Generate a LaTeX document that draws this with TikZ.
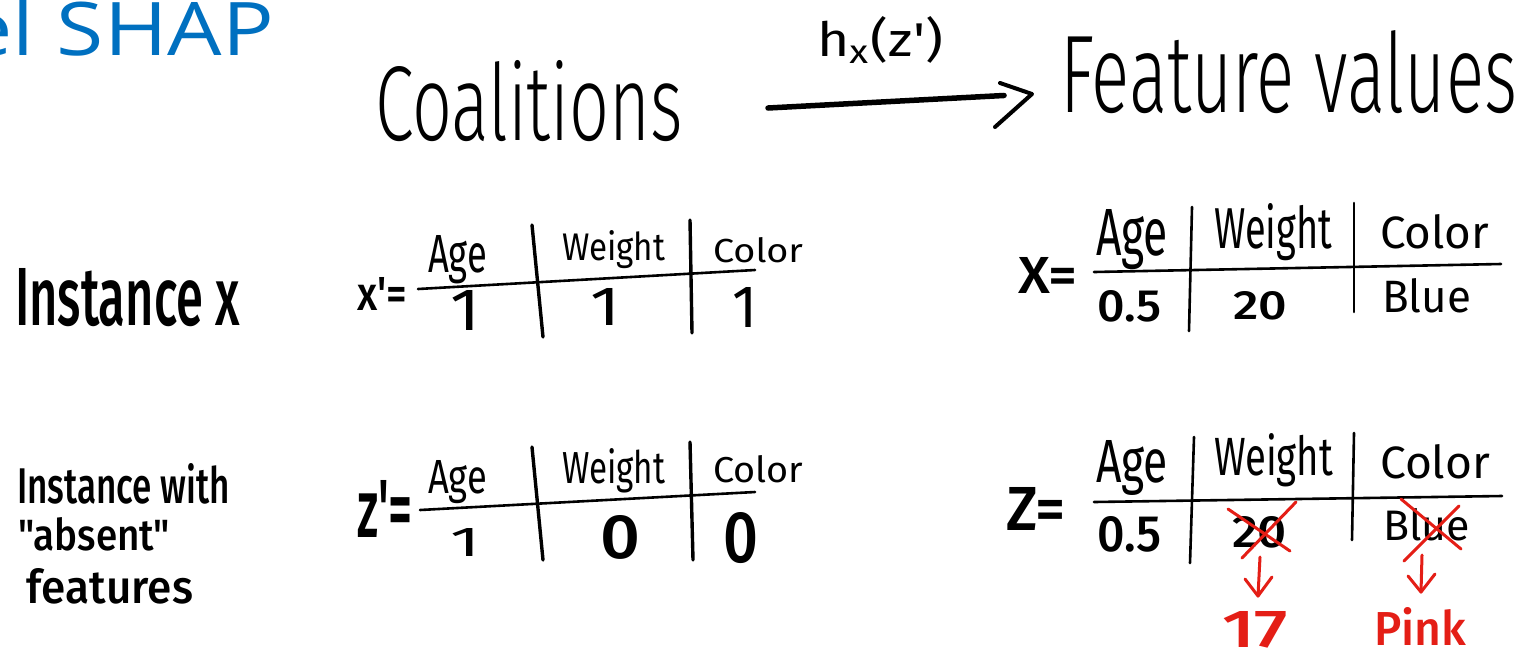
\documentclass[tikz,border=0pt]{standalone}
\usepackage{fontspec}
\usepackage{graphicx}
\usetikzlibrary{calc}
\newfontfamily\hl{Fira Sans Light}
\newfontfamily\hr{Fira Sans}
\newfontfamily\hm{Fira Sans Medium}
\newfontfamily\titlefont{Open Sans}
\definecolor{shapblue}{RGB}{0,112,192}
\definecolor{redpen}{RGB}{228,30,22}
\newcommand{\fitt}[3]{\resizebox{#1pt}{#2pt}{#3}}
\tikzset{
  txt/.style={inner sep=0pt, outer sep=0pt, anchor=base west},
  tline/.style={line width=2.6pt, line cap=round},
  vline/.style={line width=3.4pt, line cap=round},
  shaft/.style={line width=5.5pt, line cap=round},
  headpen/.style={line width=4pt, line cap=round, line join=round},
  redpen/.style={draw=redpen, line width=3pt, line cap=round, line join=round},
}
\begin{document}
\begin{tikzpicture}[x=1pt,y=-1pt]
\useasboundingbox (0,0) rectangle (1528,657);
\fill[white] (0,0) rectangle (1528,657);

% title
\node[inner sep=0pt, anchor=base east, text=shapblue, font=\titlefont\fontsize{86}{86}\selectfont] (title) at (274,55) {\scalebox{1}[0.86]{el SHAP}};

% top row
\node[txt] (coal) at (375,140) {\fitt{308}{80}{\hl Coalitions}};
\node[txt] (hx) at (817,56) {\fitt{126}{40}{\hr h\textsubscript{x}(z\textquotesingle)}};
\node[txt] (feat) at (1060,112) {\fitt{457}{82}{\hl Feature values}};
\coordinate (as) at (768,108);
\coordinate (ae) at (1032,94);
\draw[shaft, shorten >=28pt] (as) -- (ae);
\draw[headpen] ($(ae)+(-32,-11)$) -- (ae) -- ($(ae)+(-37,33)$);

% left labels
\node[txt] (inst) at (15,325) {\fitt{225}{57}{\hm Instance x}};
\node[txt] (iw1) at (17,503) {\fitt{213}{40}{\hm Instance with}};
\node[txt] (iw2) at (18,550) {\fitt{152}{33}{\hm "absent"}};
\node[txt] (iw3) at (27,603) {\fitt{166}{35}{\hm features}};

% table x'
\node[txt] (xpl) at (357,310) {\fitt{50}{33}{\hm x\textquotesingle=}};
\node[txt] (xpa) at (428,272) {\fitt{59}{37}{\hr Age}};
\node[txt] (xpw) at (562,260) {\fitt{103}{30}{\hr Weight}};
\node[txt] (xpc) at (713,262) {\fitt{90}{25}{\hr Color}};
\node[txt] (xp1) at (450,330) {\fitt{30}{40}{\hr 1}};
\node[txt] (xp2) at (590,325) {\fitt{30}{37}{\hr 1}};
\node[txt] (xp3) at (732,327) {\fitt{25}{40}{\hr 1}};
\draw[tline] (418,289) -- (755,270);
\draw[vline] (532,225) -- (543,337);
\draw[vline] (690,220) -- (692,333);

% table z'
\node[txt] (zpl) at (357,537) {\fitt{56}{57}{\hm z\textquotesingle=}};
\node[txt] (zpa) at (428,493) {\fitt{59}{33}{\hr Age}};
\node[txt] (zpw) at (562,483) {\fitt{103}{35}{\hr Weight}};
\node[txt] (zpc) at (713,482) {\fitt{90}{27}{\hr Color}};
\node[txt] (zp1) at (450,556) {\fitt{30}{28}{\hr 1}};
\node[txt] (zp2) at (600,558) {\fitt{40}{43}{\hm 0}};
\node[txt] (zp3) at (723,562) {\fitt{35}{50}{\hm 0}};
\draw[tline] (420,510) -- (755,492);
\draw[vline] (532,447) -- (543,560);
\draw[vline] (690,442) -- (693,560);

% table X
\node[txt] (Xl) at (1018,293) {\fitt{59}{36}{\hm X=}};
\node[txt] (Xa) at (1096,255) {\fitt{72}{46}{\hr Age}};
\node[txt] (Xw) at (1214,248) {\fitt{118}{45}{\hr Weight}};
\node[txt] (Xc) at (1380,248) {\fitt{109}{34}{\hr Color}};
\node[txt] (X1) at (1097,321) {\fitt{64}{31}{\hm 0.5}};
\node[txt] (X2) at (1233,319) {\fitt{54}{28}{\hm 20}};
\node[txt] (X3) at (1382,312) {\fitt{89}{34}{\hr Blue}};
\draw[tline] (1094,272) -- (1501,264);
\draw[vline, line width=2.6pt] (1192,207) -- (1189,331);
\draw[vline, line width=2.6pt] (1354,203) -- (1354,312);

% table Z
\node[txt] (Zl) at (1006,530) {\fitt{60}{43}{\hm Z=}};
\node[txt] (Za) at (1096,482) {\fitt{72}{42}{\hr Age}};
\node[txt] (Zw) at (1214,475) {\fitt{119}{42}{\hr Weight}};
\node[txt] (Zc) at (1380,478) {\fitt{110}{34}{\hr Color}};
\node[txt] (Z1) at (1097,551) {\fitt{64}{35}{\hm 0.5}};
\node[txt] (Z2) at (1232,547) {\fitt{55}{31}{\hm 20}};
\node[txt] (Z3) at (1383,540) {\fitt{87}{32}{\hr Blue}};
\draw[tline] (1094,502) -- (1502,496);
\draw[vline, line width=2.6pt] (1194,437) -- (1190,563);
\draw[vline, line width=2.6pt] (1354,433) -- (1352,540);

% red corrections
\draw[redpen] (1228,509) -- (1290,551);
\draw[redpen] (1242,558) -- (1296,502);
\draw[redpen] (1401,499) -- (1461,549);
\draw[redpen] (1404,561) -- (1459,506);
\node[txt, text=redpen] (r17) at (1222,647) {\fitt{66}{36}{\hm 17}};
\node[txt, text=redpen] (rpk) at (1374,645) {\fitt{92}{38}{\hm Pink}};
\coordinate (r1s) at (1260,557);
\coordinate (r1e) at (1258,596);
\coordinate (r2s) at (1422,555);
\coordinate (r2e) at (1421,592);
\draw[redpen] (r1s) -- (r1e);
\draw[redpen] ($(r1e)+(-13,-17)$) -- (r1e) -- ($(r1e)+(14,-19)$);
\draw[redpen] (r2s) -- (r2e);
\draw[redpen] ($(r2e)+(-13,-16)$) -- (r2e) -- ($(r2e)+(14,-18)$);
\end{tikzpicture}
\end{document}
